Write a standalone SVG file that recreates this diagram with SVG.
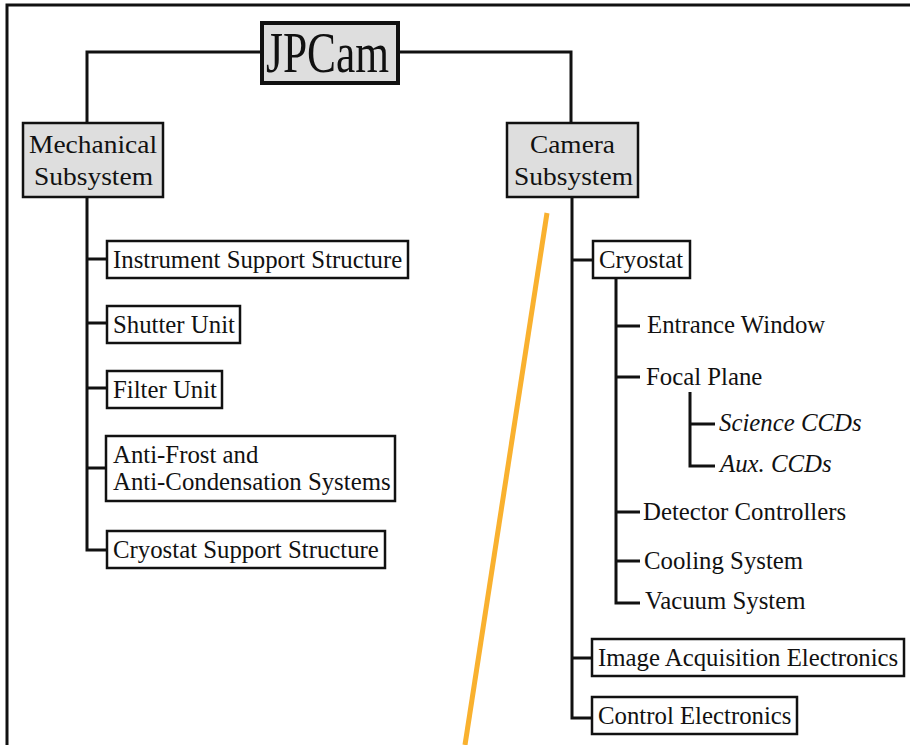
<svg xmlns="http://www.w3.org/2000/svg" width="910" height="745" viewBox="0 0 910 745">
<style>
.box{fill:#fff;stroke:#111;stroke-width:2.5}
.gbox{fill:#dedede;stroke:#111;stroke-width:2.5}
.ln{fill:none;stroke:#111;stroke-width:3;stroke-linejoin:miter}
</style>
<rect width="910" height="745" fill="#fff"/>
<path d="M7,745 V5 H910" fill="none" stroke="#111" stroke-width="3"/>
<g id="connectors">
<path class="ln" d="M262,52 H87 V123"/>
<path class="ln" d="M398,52 H571 V123"/>
<path class="ln" d="M87,197 V550 H107"/>
<path class="ln" d="M87,259 H107 M87,323 H107 M87,388 H107 M87,468 H107"/>
<path class="ln" d="M572,197 V718 H593"/>
<path class="ln" d="M572,260 H593 M572,658 H593"/>
<path class="ln" d="M616,278 V603 H640"/>
<path class="ln" d="M616,326 H640 M616,377 H640 M616,512 H640 M616,561 H640"/>
<path class="ln" d="M690,392 V466 H715 M690,424 H715"/>
</g>
<g id="jpcam"><rect x="262" y="23" width="136" height="60" fill="#dedede" stroke="#111" stroke-width="4"/><text font-family="Liberation Serif" font-size="56" fill="#111" x="266" y="72" textLength="123" lengthAdjust="spacingAndGlyphs">JPCam</text></g>
<g id="mechanical"><rect class="gbox" x="23" y="123" width="140" height="74"/><text font-family="Liberation Serif" font-size="26" fill="#111" x="29" y="153" textLength="128" lengthAdjust="spacingAndGlyphs">Mechanical</text><text font-family="Liberation Serif" font-size="26" fill="#111" x="34" y="185" textLength="119" lengthAdjust="spacingAndGlyphs">Subsystem</text></g>
<g id="camera"><rect class="gbox" x="507" y="123" width="131" height="74"/><text font-family="Liberation Serif" font-size="26" fill="#111" x="530" y="153" textLength="85" lengthAdjust="spacingAndGlyphs">Camera</text><text font-family="Liberation Serif" font-size="26" fill="#111" x="514" y="185" textLength="119" lengthAdjust="spacingAndGlyphs">Subsystem</text></g>
<g id="instrument"><rect class="box" x="107" y="241" width="301" height="37"/><text font-family="Liberation Serif" font-size="24.8" fill="#111" x="113" y="268">Instrument Support Structure</text></g>
<g id="shutter"><rect class="box" x="107" y="306" width="133" height="37"/><text font-family="Liberation Serif" font-size="24.8" fill="#111" x="113" y="333">Shutter Unit</text></g>
<g id="filter"><rect class="box" x="107" y="371" width="115" height="37"/><text font-family="Liberation Serif" font-size="24.8" fill="#111" x="113" y="398">Filter Unit</text></g>
<g id="antifrost"><rect class="box" x="106" y="436" width="289" height="65"/><text font-family="Liberation Serif" font-size="24.8" fill="#111" x="113" y="463">Anti-Frost and</text><text font-family="Liberation Serif" font-size="24.8" fill="#111" x="113" y="490">Anti-Condensation Systems</text></g>
<g id="cryosupport"><rect class="box" x="107" y="531" width="278" height="37"/><text font-family="Liberation Serif" font-size="24.8" fill="#111" x="113" y="558">Cryostat Support Structure</text></g>
<g id="cryostat"><rect class="box" x="593" y="241" width="97" height="37"/><text font-family="Liberation Serif" font-size="24.8" fill="#111" x="599" y="268">Cryostat</text></g>
<g id="entrance"><text font-family="Liberation Serif" font-size="24.8" fill="#111" x="647" y="333">Entrance Window</text></g>
<g id="focal"><text font-family="Liberation Serif" font-size="24.8" fill="#111" x="646" y="385">Focal Plane</text></g>
<g id="science"><text font-family="Liberation Serif" font-size="24.8" font-style="italic" fill="#111" x="719" y="431">Science CCDs</text></g>
<g id="aux"><text font-family="Liberation Serif" font-size="24.8" font-style="italic" fill="#111" x="720" y="472">Aux. CCDs</text></g>
<g id="detector"><text font-family="Liberation Serif" font-size="24.8" fill="#111" x="643" y="520">Detector Controllers</text></g>
<g id="cooling"><text font-family="Liberation Serif" font-size="24.8" fill="#111" x="644" y="569">Cooling System</text></g>
<g id="vacuum"><text font-family="Liberation Serif" font-size="24.8" fill="#111" x="645" y="609">Vacuum System</text></g>
<g id="imageacq"><rect class="box" x="592" y="639" width="312" height="37"/><text font-family="Liberation Serif" font-size="24.8" fill="#111" x="598" y="666">Image Acquisition Electronics</text></g>
<g id="control"><rect class="box" x="592" y="697" width="205" height="37"/><text font-family="Liberation Serif" font-size="24.8" fill="#111" x="598" y="724">Control Electronics</text></g>
<line x1="547" y1="213" x2="465" y2="745" stroke="#F9B12F" stroke-width="5"/>
</svg>
